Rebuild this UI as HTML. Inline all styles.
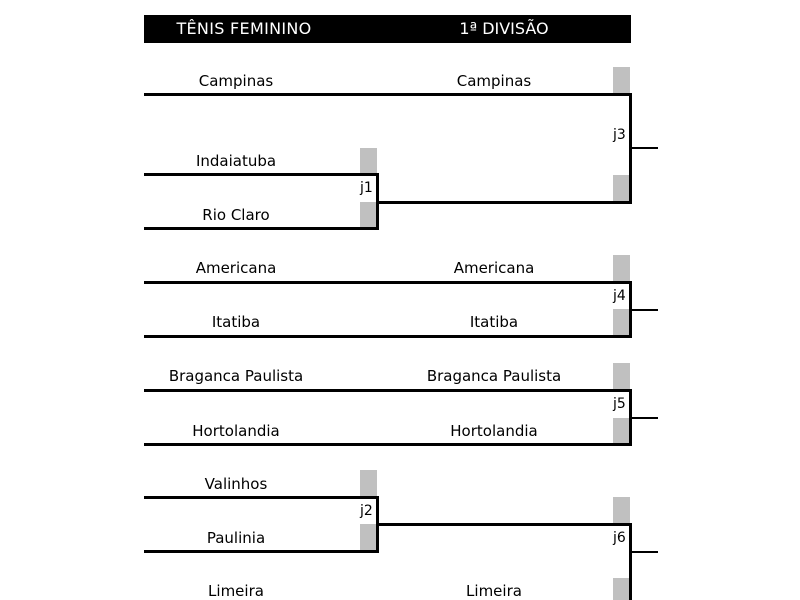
<!DOCTYPE html>
<html><head><meta charset="utf-8"><style>
body{margin:0;background:#fff;width:800px;height:600px;overflow:hidden;position:relative;font-family:"DejaVu Sans","Liberation Sans",sans-serif;}
div{position:absolute;}
.h{background:#000;height:3px;}
.v{background:#000;width:3px;}
.s{background:#000;height:2px;}
.g{background:#c0c0c0;width:17px;}
.t{font-size:15px;color:#000;text-align:center;width:234px;line-height:18px;}
.j{font-size:14px;line-height:14px;}
</style></head><body>
<div style="left:144px;top:15px;width:487px;height:28px;background:#000"></div>
<div style="left:159px;top:19px;width:170px;text-align:center;color:#fff;font-size:16px;letter-spacing:0.3px;white-space:nowrap">TÊNIS FEMININO</div>
<div style="left:424px;top:19px;width:160px;text-align:center;color:#fff;font-size:16px">1ª DIVISÃO</div>

<div class="g" style="left:613px;top:67px;height:26px"></div>
<div class="g" style="left:613px;top:175px;height:26px"></div>
<div class="g" style="left:360px;top:148px;height:25px"></div>
<div class="g" style="left:360px;top:202px;height:25px"></div>
<div class="g" style="left:613px;top:255px;height:26px"></div>
<div class="g" style="left:613px;top:309px;height:26px"></div>
<div class="g" style="left:613px;top:363px;height:26px"></div>
<div class="g" style="left:613px;top:418px;height:26px"></div>
<div class="g" style="left:360px;top:470px;height:26px"></div>
<div class="g" style="left:360px;top:524px;height:26px"></div>
<div class="g" style="left:613px;top:497px;height:26px"></div>
<div class="g" style="left:613px;top:578px;height:22px"></div>

<div class="h" style="left:144px;top:93px;width:488px"></div>
<div class="v" style="left:629px;top:93px;height:111px"></div>
<div class="s" style="left:631px;top:147px;width:27px"></div>
<div class="h" style="left:144px;top:173px;width:235px"></div>
<div class="h" style="left:144px;top:227px;width:235px"></div>
<div class="v" style="left:376px;top:173px;height:57px"></div>
<div class="h" style="left:378px;top:201px;width:254px"></div>

<div class="h" style="left:144px;top:281px;width:488px"></div>
<div class="h" style="left:144px;top:335px;width:488px"></div>
<div class="v" style="left:629px;top:281px;height:57px"></div>
<div class="s" style="left:631px;top:309px;width:27px"></div>

<div class="h" style="left:144px;top:389px;width:488px"></div>
<div class="h" style="left:144px;top:443px;width:488px"></div>
<div class="v" style="left:629px;top:389px;height:57px"></div>
<div class="s" style="left:631px;top:417px;width:27px"></div>

<div class="h" style="left:144px;top:496px;width:235px"></div>
<div class="h" style="left:144px;top:550px;width:235px"></div>
<div class="v" style="left:376px;top:496px;height:57px"></div>
<div class="h" style="left:378px;top:523px;width:254px"></div>
<div class="v" style="left:629px;top:523px;height:77px"></div>
<div class="s" style="left:631px;top:551px;width:27px"></div>

<div class="t" style="left:119px;top:72px">Campinas</div>
<div class="t" style="left:377px;top:72px">Campinas</div>
<div class="t" style="left:119px;top:152px">Indaiatuba</div>
<div class="t" style="left:119px;top:206px">Rio Claro</div>
<div class="t" style="left:119px;top:259px">Americana</div>
<div class="t" style="left:377px;top:259px">Americana</div>
<div class="t" style="left:119px;top:313px">Itatiba</div>
<div class="t" style="left:377px;top:313px">Itatiba</div>
<div class="t" style="left:119px;top:367px">Braganca Paulista</div>
<div class="t" style="left:377px;top:367px">Braganca Paulista</div>
<div class="t" style="left:119px;top:422px">Hortolandia</div>
<div class="t" style="left:377px;top:422px">Hortolandia</div>
<div class="t" style="left:119px;top:475px">Valinhos</div>
<div class="t" style="left:119px;top:529px">Paulinia</div>
<div class="t" style="left:119px;top:582px">Limeira</div>
<div class="t" style="left:377px;top:582px">Limeira</div>

<div class="j" style="left:613px;top:128px">j3</div>
<div class="j" style="left:360px;top:181px">j1</div>
<div class="j" style="left:613px;top:289px">j4</div>
<div class="j" style="left:613px;top:397px">j5</div>
<div class="j" style="left:360px;top:504px">j2</div>
<div class="j" style="left:613px;top:531px">j6</div>
</body></html>
